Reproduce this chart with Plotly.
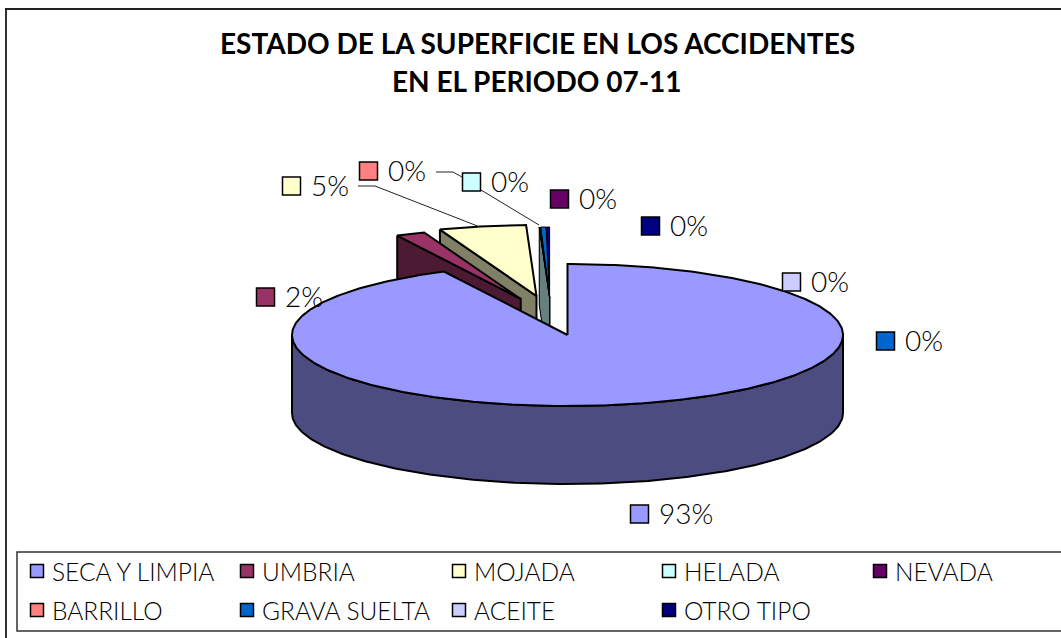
import math
import plotly.graph_objects as go

# ---- data -------------------------------------------------------------
categories = ["SECA Y LIMPIA", "UMBRIA", "MOJADA", "HELADA", "NEVADA",
              "BARRILLO", "GRAVA SUELTA", "ACEITE", "OTRO TIPO"]
values = [92.6, 1.7, 5.1, 0.03, 0.03, 0.03, 0.30, 0.03, 0.18]
colors = ["#9999FF", "#993366", "#FFFFCC", "#CCFFFF", "#660066",
          "#FF8080", "#0066CC", "#CCCCFF", "#000080"]
title_lines = ["ESTADO DE LA SUPERFICIE EN LOS ACCIDENTES", "EN EL PERIODO 07-11"]

# ---- projection / layout constants ------------------------------------
W, H = 1061, 638
CX, CY, RX, RY, DEPTH = 567.5, 335.0, 275.5, 71.0, 78.0
# pull: (fraction of radius, direction in degrees clockwise from the top)
PULL = [(0, 0), (0.535, -18.5), (0.56, -11.6)] + [(0.525, -7.1)] * 6
FONT = "Lato"
LBL_SIZE = 28
LEG_SIZE = 24.5
# data label keys: left edge x, centre y
LABEL_POS = [(630, 514), (256, 297), (282, 186), (462, 182), (550, 199),
             (359, 171), (876, 341), (782, 282), (641, 226)]
LEG_COLS = [30, 240, 452, 662, 873]
LEG_ROWS = [571, 610]
LEADERS = [([358, 375, 480], [186, 186, 227]),
           ([436, 453, 462], [172, 172, 177]),
           ([481, 539], [190, 225])]

def shade(c):
    r, g, b = int(c[1:3], 16), int(c[3:5], 16), int(c[5:7], 16)
    return f"rgb({round(r/2)},{round(g/2)},{round(b/2)})"

# slice angles from the values
total = sum(values)
angles, a = [], 0.0
for v in values:
    angles.append((a, a + v / total * 360))
    a += v / total * 360

def apex(i):
    f, d = PULL[i]
    return CX + RX * f * math.sin(math.radians(d)), CY - RY * f * math.cos(math.radians(d))

def rim(i, deg):
    ax, ay = apex(i)
    return ax + RX * math.sin(math.radians(deg)), ay - RY * math.cos(math.radians(deg))

def poly(xs, ys, fill, name, lw=2.0):
    return go.Scatter(x=xs + xs[:1], y=ys + ys[:1], mode="lines", fill="toself",
                      fillcolor=fill, line=dict(color="black", width=lw),
                      hoverinfo="text", text=name, showlegend=False)

fig = go.Figure()

def add_slice(i):
    a0, a1 = angles[i]
    a0s, a1s = a0 - 360, a1 - 360
    lw = 2.0 if values[i] > 1 else 1.0
    ax, ay = apex(i)
    sx, sy = rim(i, a0s)
    fig.add_trace(poly([sx, ax, ax, sx], [sy, ay, ay + DEPTH, sy + DEPTH],
                       shade(colors[i]), categories[i], lw))
    n = max(2, int((a1 - a0) * 2))
    pts = [rim(i, a0s + (a1s - a0s) * k / n) for k in range(n + 1)]
    fig.add_trace(poly([ax] + [p[0] for p in pts], [ay] + [p[1] for p in pts],
                       colors[i], categories[i], lw))

# back to front: the thin slices, then MOJADA, UMBRIA
for i in range(len(values) - 1, 0, -1):
    add_slice(i)

# main slice: outer wall then top
front = [rim(0, d) for d in range(90, 271)]
fig.add_trace(poly([p[0] for p in front] + [p[0] for p in reversed(front)],
                   [p[1] for p in front] + [p[1] + DEPTH for p in reversed(front)],
                   shade(colors[0]), categories[0]))
top_deg = angles[0][1]
top = [rim(0, top_deg * k / 400) for k in range(401)]
fig.add_trace(poly([CX] + [p[0] for p in top], [CY] + [p[1] for p in top],
                   colors[0], categories[0]))

# leaders
for lx, ly in LEADERS:
    fig.add_trace(go.Scatter(x=lx, y=ly, mode="lines", hoverinfo="skip", showlegend=False,
                             line=dict(color="#222222", width=1)))

# data label keys and percentages
pct = [f"{round(v / total * 100)}%" for v in values]
fig.add_trace(go.Scatter(x=[p[0] + 9.5 for p in LABEL_POS], y=[p[1] for p in LABEL_POS],
                         mode="markers", hoverinfo="skip", showlegend=False,
                         marker=dict(symbol="square", size=18, color=colors,
                                     line=dict(color="black", width=1.5))))
for (x, y), t in zip(LABEL_POS, pct):
    fig.add_annotation(x=x + 27, y=y - 1, text=t, showarrow=False, xanchor="left", yanchor="middle",
                       font=dict(family=FONT, size=LBL_SIZE, color="black", weight=300))

# legend
leg_x = [LEG_COLS[i % 5] for i in range(len(categories))]
leg_y = [LEG_ROWS[i // 5] for i in range(len(categories))]
fig.add_trace(go.Scatter(x=[x + 7 for x in leg_x], y=leg_y, mode="markers", hoverinfo="skip",
                         showlegend=False,
                         marker=dict(symbol="square", size=13, color=colors,
                                     line=dict(color="black", width=1.5))))
for x, y, t in zip(leg_x, leg_y, categories):
    fig.add_annotation(x=x + 20, y=y, text=t, showarrow=False, xanchor="left", yanchor="middle",
                       font=dict(family=FONT, size=LEG_SIZE, color="black", weight=300))

# title
fig.add_annotation(x=537, y=43, text=title_lines[0], showarrow=False, xanchor="center", yanchor="middle",
                   font=dict(family=FONT, size=28, color="black", weight="bold"))
fig.add_annotation(x=537, y=81, text=title_lines[1], showarrow=False, xanchor="center", yanchor="middle",
                   font=dict(family=FONT, size=28, color="black", weight="bold"))

# frames
fig.add_shape(type="line", x0=6, x1=6, y0=9, y1=638, line=dict(color="#333333", width=2))
fig.add_shape(type="line", x0=5, x1=1061, y0=9, y1=9, line=dict(color="#222222", width=2))
fig.add_shape(type="rect", x0=17, x1=1070, y0=552, y1=631, line=dict(color="#333333", width=1.5),
              fillcolor="white", layer="below")

fig.update_layout(width=W, height=H, margin=dict(l=0, r=0, t=0, b=0), showlegend=False,
                  paper_bgcolor="white", plot_bgcolor="white",
                  xaxis=dict(range=[0, W], visible=False, fixedrange=True),
                  yaxis=dict(range=[H, 0], visible=False, fixedrange=True))

fig.write_html("out.html", config={"displayModeBar": False},
               post_script="document.body.style.margin='0';document.documentElement.style.overflow='hidden';")
